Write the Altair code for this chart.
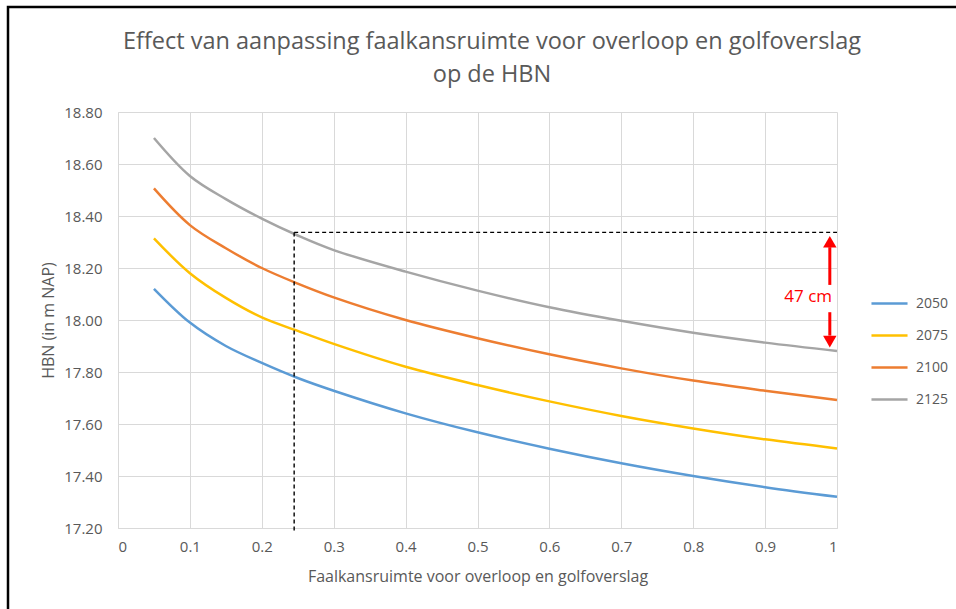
import altair as alt
import pandas as pd

# ---- data ----
x_vals = [0.05, 0.1, 0.15, 0.2, 0.25, 0.3, 0.4, 0.5, 0.6, 0.7, 0.8, 0.9, 1.0]
hbn_2050 = [18.12, 17.99, 17.90, 17.835, 17.777, 17.728, 17.641, 17.568, 17.505, 17.449, 17.40, 17.357, 17.32]
hbn_2075 = [18.314, 18.18, 18.085, 18.01, 17.958, 17.908, 17.82, 17.75, 17.687, 17.631, 17.583, 17.541, 17.506]
hbn_2100 = [18.506, 18.365, 18.276, 18.20, 18.14, 18.087, 18.00, 17.93, 17.868, 17.814, 17.767, 17.728, 17.692]
hbn_2125 = [18.70, 18.554, 18.465, 18.39, 18.325, 18.269, 18.186, 18.113, 18.049, 17.997, 17.951, 17.913, 17.881]
series_names = ["2050", "2075", "2100", "2125"]
series_colors = ["#5B9BD5", "#FFC000", "#ED7D31", "#A5A5A5"]

title_line1 = "Effect van aanpassing faalkansruimte voor overloop en golfoverslag"
title_line2 = "op de HBN"

# annotation values
ref_x = 0.245
ref_y = 18.337
end_x = 1.0
end_y = 17.881
arrow_x = 0.99
label_text = "47 cm"

rows = []
for name, vals in zip(series_names, [hbn_2050, hbn_2075, hbn_2100, hbn_2125]):
    for xv, yv in zip(x_vals, vals):
        rows.append({"x": xv, "y": yv, "serie": name})
df = pd.DataFrame(rows)

font = "Open Sans"
grey_text = "#595959"

xscale = alt.Scale(domain=[0, 1], nice=False, zero=False)
yscale = alt.Scale(domain=[17.2, 18.8], nice=False, zero=False)

lines = alt.Chart(df).mark_line(strokeWidth=2.5, interpolate="catmull-rom").encode(
    x=alt.X("x:Q", scale=xscale,
            axis=alt.Axis(values=[i / 10 for i in range(11)], format="~g",
                          title="Faalkansruimte voor overloop en golfoverslag",
                          titlePadding=14)),
    y=alt.Y("y:Q", scale=yscale,
            axis=alt.Axis(values=[17.2 + 0.2 * i for i in range(9)], format=".2f",
                          title="HBN (in m NAP)", titlePadding=7)),
    color=alt.Color("serie:N", scale=alt.Scale(domain=series_names, range=series_colors),
                    legend=alt.Legend(title=None, orient="none", legendX=752, legendY=172,
                                      symbolType="stroke", symbolStrokeWidth=2.5,
                                      symbolSize=1300, rowPadding=5, labelOffset=7,
                                      labelFontSize=14, labelColor=grey_text, labelFont=font)),
)

# dashed reference lines
dash_v = alt.Chart(pd.DataFrame({"x": [ref_x], "y": [17.19], "y2": [ref_y]})).mark_rule(
    color="black", strokeDash=[4, 3], strokeWidth=1.4).encode(
    x=alt.X("x:Q", scale=xscale), y=alt.Y("y:Q", scale=yscale), y2="y2:Q")
dash_h = alt.Chart(pd.DataFrame({"x": [ref_x], "x2": [end_x], "y": [ref_y]})).mark_rule(
    color="black", strokeDash=[4, 3], strokeWidth=1.4).encode(
    x=alt.X("x:Q", scale=xscale), x2="x2:Q", y=alt.Y("y:Q", scale=yscale))

# red arrow shafts and heads
shafts = alt.Chart(pd.DataFrame({"x": [arrow_x, arrow_x], "y": [18.135, 18.03], "y2": [18.28, 17.94]})).mark_rule(
    color="#FF0000", strokeWidth=3).encode(
    x=alt.X("x:Q", scale=xscale), y=alt.Y("y:Q", scale=yscale), y2="y2:Q")
head_up = alt.Chart(pd.DataFrame({"x": [arrow_x], "y": [ref_y - 0.036]})).mark_point(
    shape="triangle-up", filled=True, color="#FF0000", size=180, opacity=1).encode(
    x=alt.X("x:Q", scale=xscale), y=alt.Y("y:Q", scale=yscale))
head_down = alt.Chart(pd.DataFrame({"x": [arrow_x], "y": [end_y + 0.036]})).mark_point(
    shape="triangle-down", filled=True, color="#FF0000", size=180, opacity=1).encode(
    x=alt.X("x:Q", scale=xscale), y=alt.Y("y:Q", scale=yscale))
label = alt.Chart(pd.DataFrame({"x": [0.96], "y": [18.087], "t": [label_text]})).mark_text(
    color="#FF0000", fontSize=17, font=font, align="center", baseline="middle").encode(
    x=alt.X("x:Q", scale=xscale), y=alt.Y("y:Q", scale=yscale), text="t:N")

# chart title as two text lines
title1 = alt.Chart(pd.DataFrame({"t": [title_line1]})).mark_text(
    fontSize=23.5, font=font, color=grey_text, align="center", baseline="middle").encode(
    x=alt.value(374), y=alt.value(-70), text="t:N")
title2 = alt.Chart(pd.DataFrame({"t": [title_line2]})).mark_text(
    fontSize=23.5, font=font, color=grey_text, align="center", baseline="middle").encode(
    x=alt.value(374), y=alt.value(-37), text="t:N")

# outer frame (decoration)
frame = alt.Chart(pd.DataFrame({"a": [0]})).mark_rect(
    fill=None, stroke="black", strokeWidth=2.5).encode(
    x=alt.value(-110), x2=alt.value(900), y=alt.value(-105), y2=alt.value(600))

chart = alt.layer(frame, lines, dash_v, dash_h, shafts, head_up, head_down, label, title1, title2).properties(
    width=719, height=416,
    background="white",
    autosize=alt.AutoSizeParams(type="none"),
    padding={"left": 118, "top": 112, "right": 119, "bottom": 81},
).configure_view(stroke=None).configure_axis(
    gridColor="#D9D9D9", gridWidth=1, domainColor="#D9D9D9", domainWidth=1,
    ticks=False, labelFont=font, labelFontSize=15, labelColor=grey_text,
    titleFont=font, titleFontSize=16, titleColor=grey_text, titleFontWeight="normal",
).configure_axisY(labelPadding=16).configure_axisX(labelPadding=11)

chart.save("out.html", embed_options={"renderer": "svg", "actions": False})
